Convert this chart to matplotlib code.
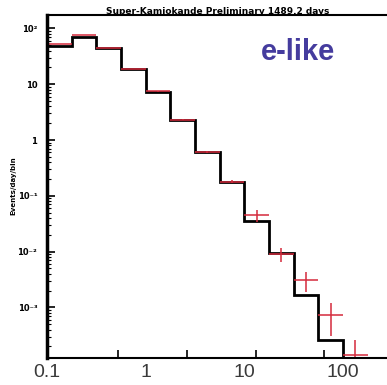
import numpy as np
import matplotlib
matplotlib.use("Agg")
import matplotlib.pyplot as plt
from matplotlib.ticker import NullLocator, NullFormatter

# log-momentum bins, 4 per decade
bin_edges = np.logspace(-1, 2.25, 14)

# Monte Carlo expectation (black histogram)
mc_vals = [48, 70, 44.6, 18.7, 7.25, 2.28, 0.61, 0.177, 0.0353, 0.00944, 0.00167, 0.00026, 0]

# data points (red crosses) with asymmetric errors
data_vals = [53, 76, 44.6, 18.7, 7.5, 2.3, 0.61, 0.18, 0.0453, 0.0091, 0.0031, 0.00073, 0.00014]
err_lo = [0.6, 0.8, 0.5, 0.3, 0.15, 0.06, 0.02, 0.01, 0.0114, 0.0026, 0.0012, 0.00042, 0.00014]
err_hi = [0.6, 0.8, 0.5, 0.3, 0.15, 0.06, 0.025, 0.013, 0.0104, 0.0025, 0.0012, 0.00047, 0.00012]

xtick_vals = [0.1, 1, 10, 100]
xtick_labels = ["0.1", "1", "10", "100"]
xmark_vals = [0.518, 2.62, 13.2, 64]
ytick_vals = [1e2, 1e1, 1, 1e-1, 1e-2, 1e-3]
ytick_labels = ["10\u00b2", "10", "1", "10\u207b\u00b9", "10\u207b\u00b2", "10\u207b\u00b3"]

fig = plt.figure(figsize=(3.87, 3.85), dpi=100)
ax = fig.add_axes([47 / 387, 27 / 385, 340 / 387, 343 / 385])
ax.set_xscale("log")
ax.set_yscale("log")

ax.stairs(mc_vals, bin_edges, baseline=None, color="black", linewidth=2.0)

centers = np.sqrt(bin_edges[:-1] * bin_edges[1:])
xerr = [centers - bin_edges[:-1], bin_edges[1:] - centers]
ax.errorbar(centers, data_vals, xerr=xerr, yerr=[err_lo, err_hi],
            fmt="none", ecolor="#d42a3c", elinewidth=1.1, capsize=0)

ax.set_xlim(0.1, 10 ** (-1 + 340 / 98.7))
ax.set_ylim(1.24e-4, 174)

ax.set_xticks(xtick_vals)
ax.set_xticklabels(xtick_labels, fontsize=14, color="#3a3a3a", family="Liberation Sans")
ax.xaxis.set_minor_locator(NullLocator())
ax.set_xticks(xmark_vals, minor=True)
ax.xaxis.set_minor_formatter(NullFormatter())
ax.tick_params(axis="x", which="major", length=0, pad=4)
ax.tick_params(axis="x", which="minor", direction="in", length=6, width=1.2, color="black")

ax.set_yticks(ytick_vals)
ax.set_yticklabels(ytick_labels, fontsize=6, fontweight="bold")
ax.yaxis.set_minor_formatter(NullFormatter())
ax.tick_params(axis="y", which="major", direction="in", length=6, width=1.2, pad=7)
ax.tick_params(axis="y", which="minor", direction="in", length=3, width=0.8)

ax.spines["right"].set_visible(False)
ax.spines["left"].set_linewidth(2.5)
ax.spines["top"].set_linewidth(1.5)
ax.spines["bottom"].set_linewidth(1.5)

fig.text(218 / 387, 1 - 11 / 385, "Super-Kamiokande Preliminary 1489.2 days",
         ha="center", va="center", fontsize=6.5, fontweight="bold")
fig.text(13 / 387, 1 - 186 / 385, "Events/day/bin", rotation=90,
         ha="center", va="center", fontsize=5, fontweight="bold")
ax.text(298 / 387, 1 - 52 / 385, "e-like", transform=fig.transFigure,
        ha="center", va="center", fontsize=21, fontweight="bold",
        family="Liberation Sans", color="#453c9e")

fig.savefig("out.png", dpi=100)
